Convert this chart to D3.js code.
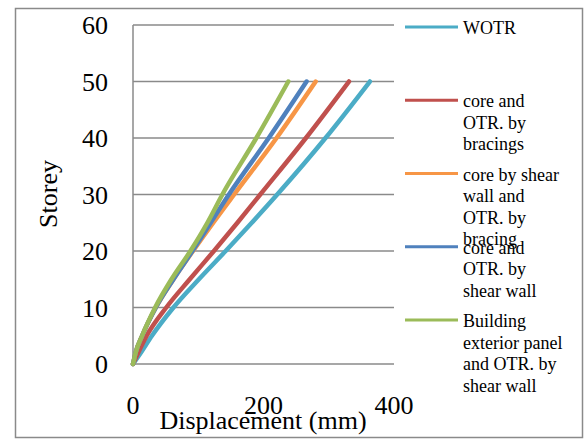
<!DOCTYPE html>
<html>
<head>
<meta charset="utf-8">
<script src="https://cdn.jsdelivr.net/npm/d3@7"></script>
<style>
  body { margin: 0; background: #fff; }
  .tick-label { font-family: 'Liberation Serif', 'Times New Roman', serif; font-size: 26px; fill: #000; }
  .legend-text { font-family: 'Liberation Serif', 'Times New Roman', serif; font-size: 18px; fill: #000; }
</style>
</head>
<body>
<div class="container"></div>
<script>
/* globals d3 */

(function () {
  // storey levels
  var storeys = [0, 2, 5, 10, 15, 20, 25, 30, 40, 50]

  // displacement (mm) for each storey level
  var wotr = [0, 12, 29, 62, 101, 142, 182, 221, 295, 363]
  var coreBracings = [0, 8, 21, 51, 87, 124, 160, 195, 265, 331]
  var coreShearWallBracing = [0, 4, 14, 35, 62, 92, 123, 155, 220, 280]
  var coreShearWall = [0, 4, 14, 35, 62, 91, 119, 147, 208, 266]
  var exteriorPanel = [0, 4, 14, 34, 59, 88, 114, 137, 189, 238]

  var seriesNames = [
    ['WOTR'],
    ['core and', 'OTR. by', 'bracings'],
    ['core by shear', 'wall and', 'OTR. by', 'bracing'],
    ['core and', 'OTR. by', 'shear wall'],
    ['Building', 'exterior panel', 'and OTR. by', 'shear wall']
  ]
  var seriesValues = [wotr, coreBracings, coreShearWallBracing, coreShearWall, exteriorPanel]
  var colors = ['#4BACC6', '#C0504D', '#F79646', '#4F81BD', '#9BBB59']

  var xTicks = [0, 200, 400]
  var yTicks = [0, 10, 20, 30, 40, 50, 60]

  var width = 584
  var height = 439
  var plot = { left: 133, right: 394, top: 25, bottom: 364 }

  var svg = d3.select('.container')
              .append('svg')
              .attr('width', width)
              .attr('height', height)

  // outer chart border
  svg.append('rect')
     .attr('x', 15.5)
     .attr('y', 8.5)
     .attr('width', 567)
     .attr('height', 429)
     .attr('fill', '#fff')
     .attr('stroke', '#8a8a8a')
     .attr('stroke-width', 1.5)

  var x = d3.scaleLinear().domain([0, 400]).range([plot.left, plot.right])
  var y = d3.scaleLinear().domain([0, 60]).range([plot.bottom, plot.top])

  // horizontal gridlines
  svg.append('g')
     .selectAll('line')
     .data(yTicks.slice(1))
     .enter()
     .append('line')
     .attr('x1', plot.left)
     .attr('x2', plot.right)
     .attr('y1', function (d) { return y(d) })
     .attr('y2', function (d) { return y(d) })
     .attr('stroke', '#8a8a8a')
     .attr('stroke-width', 1.5)

  // axis lines
  svg.append('line')
     .attr('x1', plot.left).attr('x2', plot.left)
     .attr('y1', plot.top).attr('y2', plot.bottom)
     .attr('stroke', '#8a8a8a').attr('stroke-width', 1.5)
  svg.append('line')
     .attr('x1', plot.left).attr('x2', plot.right)
     .attr('y1', plot.bottom).attr('y2', plot.bottom)
     .attr('stroke', '#8a8a8a').attr('stroke-width', 1.5)

  // tick labels
  svg.append('g')
     .selectAll('text')
     .data(yTicks)
     .enter()
     .append('text')
     .attr('class', 'tick-label')
     .attr('x', 108)
     .attr('y', function (d) { return y(d) + 9 })
     .attr('text-anchor', 'end')
     .text(function (d) { return d })

  svg.append('g')
     .selectAll('text')
     .data(xTicks)
     .enter()
     .append('text')
     .attr('class', 'tick-label')
     .attr('x', function (d) { return x(d) })
     .attr('y', 414)
     .attr('text-anchor', 'middle')
     .text(function (d) { return d })

  // axis titles
  svg.append('text')
     .attr('class', 'tick-label')
     .attr('x', 263)
     .attr('y', 429)
     .attr('text-anchor', 'middle')
     .text('Displacement (mm)')

  svg.append('text')
     .attr('class', 'tick-label')
     .attr('transform', 'translate(57,194) rotate(-90)')
     .attr('text-anchor', 'middle')
     .text('Storey')

  // series lines
  var line = d3.line()
               .x(function (d) { return x(d[0]) })
               .y(function (d) { return y(d[1]) })
               .curve(d3.curveMonotoneX)

  seriesValues.forEach(function (values, i) {
    var points = values.map(function (v, j) { return [v, storeys[j]] })
    svg.append('path')
       .attr('d', line(points))
       .attr('fill', 'none')
       .attr('stroke', colors[i])
       .attr('stroke-width', 4.5)
       .attr('stroke-linecap', 'round')
       .attr('stroke-linejoin', 'round')
  })

  // legend
  var legend = svg.append('g')
  seriesNames.forEach(function (lines, i) {
    var ly = 27 + i * 73.25
    legend.append('line')
          .attr('x1', 405).attr('x2', 458)
          .attr('y1', ly).attr('y2', ly)
          .attr('stroke', colors[i])
          .attr('stroke-width', 3)
    var t = legend.append('text')
                  .attr('class', 'legend-text')
                  .attr('x', 463)
                  .attr('y', ly + 7)
    lines.forEach(function (s, k) {
      t.append('tspan')
       .attr('x', 463)
       .attr('dy', k === 0 ? 0 : 21.5)
       .text(s)
    })
  })
}())
</script>
</body>
</html>
